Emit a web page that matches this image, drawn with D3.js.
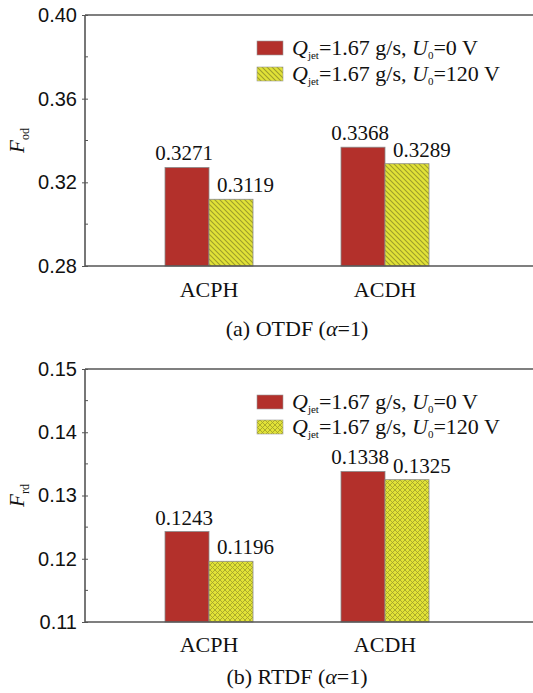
<!DOCTYPE html>
<html>
<head>
<meta charset="utf-8">
<script src="https://cdn.jsdelivr.net/npm/d3@7"></script>
<style>
  html, body { margin: 0; padding: 0; background: #fff; }
  svg { display: block; }
  .serif { font-family: "Liberation Serif", "Times New Roman", serif; fill: #111; }
  .sans { font-family: "Liberation Sans", Arial, sans-serif; fill: #111; }
</style>
</head>
<body>
<svg id="chart" width="533" height="693"></svg>
<script>
// Categories and series
const categories = ["ACPH", "ACDH"];
const seriesKeys = ["U0_0V", "U0_120V"];
const legendVoltage = ["0 V", "120 V"];

// Panel (a): OTDF
const otdf0V = [0.3271, 0.3368];
const otdf120V = [0.3119, 0.3289];
const otdfTicks = [0.28, 0.32, 0.36, 0.40];
const otdfTickLabels = ["0.28", "0.32", "0.36", "0.40"];
const otdfMinor = [0.30, 0.34, 0.38];

// Panel (b): RTDF
const rtdf0V = [0.1243, 0.1338];
const rtdf120V = [0.1196, 0.1325];
const rtdfTicks = [0.11, 0.12, 0.13, 0.14, 0.15];
const rtdfTickLabels = ["0.11", "0.12", "0.13", "0.14", "0.15"];
const rtdfMinor = [0.115, 0.125, 0.135, 0.145];

const svg = d3.select("#chart");
const defs = svg.append("defs");

const red = "#b3302b";
const yellow = "#e1e237";
const hatchInk = "#9e9e2a";

// diagonal hatch (top-left to bottom-right)
const diag = defs.append("pattern")
  .attr("id", "diag").attr("patternUnits", "userSpaceOnUse")
  .attr("width", 5).attr("height", 5);
diag.append("rect").attr("width", 5).attr("height", 5).attr("fill", yellow);
diag.append("path").attr("d", "M-1,-1 L6,6 M-1,4 L1,6 M4,-1 L6,1")
  .attr("stroke", hatchInk).attr("stroke-width", 1.1);

// cross hatch
const cross = defs.append("pattern")
  .attr("id", "cross").attr("patternUnits", "userSpaceOnUse")
  .attr("width", 5).attr("height", 5);
cross.append("rect").attr("width", 5).attr("height", 5).attr("fill", yellow);
cross.append("path").attr("d", "M-1,-1 L6,6 M-1,4 L1,6 M4,-1 L6,1 M-1,6 L6,-1 M-1,1 L1,-1 M4,6 L6,4")
  .attr("stroke", hatchInk).attr("stroke-width", 0.8);

const x = d3.scalePoint().domain(categories).range([121, 473]).padding(0.5);
const xs = d3.scaleBand().domain(seriesKeys).range([-44, 44]);

function panel(cfg) {
  const { values0, values120, domain, top, bottom, ticks, tickLabels, minor,
          pattern, sub, caption, captionY, catY, legendY } = cfg;
  const y = d3.scaleLinear().domain(domain).range([bottom, top]);
  const g = svg.append("g");
  const left = 85, right = 540;
  const axisColor = "#555";

  // bars
  const rows = categories.map((c, i) => ({ c, vals: [values0[i], values120[i]] }));
  rows.forEach(r => {
    r.vals.forEach((v, j) => {
      const bx = x(r.c) + xs(seriesKeys[j]);
      g.append("rect")
        .attr("x", bx).attr("y", y(v))
        .attr("width", xs.bandwidth()).attr("height", y(domain[0]) - y(v))
        .attr("fill", j === 0 ? red : `url(#${pattern})`)
        .attr("stroke", "#8a8a8a").attr("stroke-width", 0.8);
    });
  });

  // value labels
  rows.forEach(r => {
    r.vals.forEach((v, j) => {
      const bx = x(r.c) + xs(seriesKeys[j]);
      const t = g.append("text").attr("class", "serif")
        .attr("font-size", 21)
        .attr("y", y(v) - 7)
        .text(v.toFixed(4));
      if (j === 0) t.attr("x", bx + xs.bandwidth() / 2 - 3).attr("text-anchor", "middle");
      else t.attr("x", bx + 8).attr("text-anchor", "start");
    });
  });

  // frame: left, top, bottom
  g.append("line").attr("x1", left).attr("x2", left).attr("y1", top).attr("y2", bottom)
    .attr("stroke", axisColor).attr("stroke-width", 1.6);
  g.append("line").attr("x1", left).attr("x2", right).attr("y1", top).attr("y2", top)
    .attr("stroke", axisColor).attr("stroke-width", 1.6);
  g.append("line").attr("x1", left).attr("x2", right).attr("y1", bottom).attr("y2", bottom)
    .attr("stroke", axisColor).attr("stroke-width", 1.6);

  // y axis ticks and labels
  const yAxis = d3.axisLeft(y).tickValues(ticks)
    .tickFormat((d, i) => tickLabels[i]).tickSize(3).tickPadding(5);
  const ag = g.append("g").attr("transform", `translate(${left},0)`).call(yAxis);
  ag.select(".domain").remove();
  ag.selectAll(".tick line").attr("stroke", axisColor).attr("x2", 3).attr("x1", -3);
  ag.selectAll(".tick text").attr("class", "sans").attr("font-size", 20)
    .attr("font-family", "Liberation Sans, Arial, sans-serif").attr("fill", "#111");

  g.selectAll(".minor").data(minor).enter().append("line")
    .attr("x1", left).attr("x2", left + 3)
    .attr("y1", d => y(d)).attr("y2", d => y(d))
    .attr("stroke", axisColor).attr("stroke-width", 1);

  // y axis title
  const yt = g.append("text").attr("class", "serif")
    .attr("transform", `translate(24,${(top + bottom) / 2}) rotate(-90)`)
    .attr("text-anchor", "middle").attr("font-size", 21);
  yt.append("tspan").attr("font-style", "italic").text("F");
  yt.append("tspan").attr("font-size", 12).attr("dy", 5).text(sub);

  // category labels
  g.selectAll(".cat").data(categories).enter().append("text")
    .attr("class", "serif").attr("font-size", 22)
    .attr("x", d => x(d)).attr("y", catY).attr("text-anchor", "middle")
    .text(d => d);

  // caption
  const cap = g.append("text").attr("class", "serif").attr("font-size", 22)
    .attr("x", 297).attr("y", captionY).attr("text-anchor", "middle");
  cap.append("tspan").text(caption + " (");
  cap.append("tspan").attr("font-style", "italic").text("α");
  cap.append("tspan").text("=1)");

  // legend
  legendVoltage.forEach((v, j) => {
    const ly = legendY[j];
    g.append("rect").attr("x", 257).attr("y", ly - 7).attr("width", 26).attr("height", 14)
      .attr("fill", j === 0 ? red : `url(#${pattern})`)
      .attr("stroke", "#999").attr("stroke-width", 0.6);
    const lt = g.append("text").attr("class", "serif").attr("font-size", 22)
      .attr("x", 292).attr("y", ly + 7);
    lt.append("tspan").attr("font-style", "italic").text("Q");
    lt.append("tspan").attr("font-size", 11).attr("dy", 4).text("jet");
    lt.append("tspan").attr("dy", -4).text("=1.67 g/s, ");
    lt.append("tspan").attr("font-style", "italic").text("U");
    lt.append("tspan").attr("font-size", 11).attr("dy", 4).text("0");
    lt.append("tspan").attr("dy", -4).text("=" + v);
  });
}

panel({
  values0: otdf0V, values120: otdf120V, domain: [0.28, 0.40],
  top: 15, bottom: 266, ticks: otdfTicks, tickLabels: otdfTickLabels, minor: otdfMinor,
  pattern: "diag", sub: "od", caption: "(a) OTDF", captionY: 336, catY: 297,
  legendY: [48, 74]
});

panel({
  values0: rtdf0V, values120: rtdf120V, domain: [0.11, 0.15],
  top: 369, bottom: 622, ticks: rtdfTicks, tickLabels: rtdfTickLabels, minor: rtdfMinor,
  pattern: "cross", sub: "rd", caption: "(b) RTDF", captionY: 684, catY: 652,
  legendY: [402, 427]
});
</script>
</body>
</html>
